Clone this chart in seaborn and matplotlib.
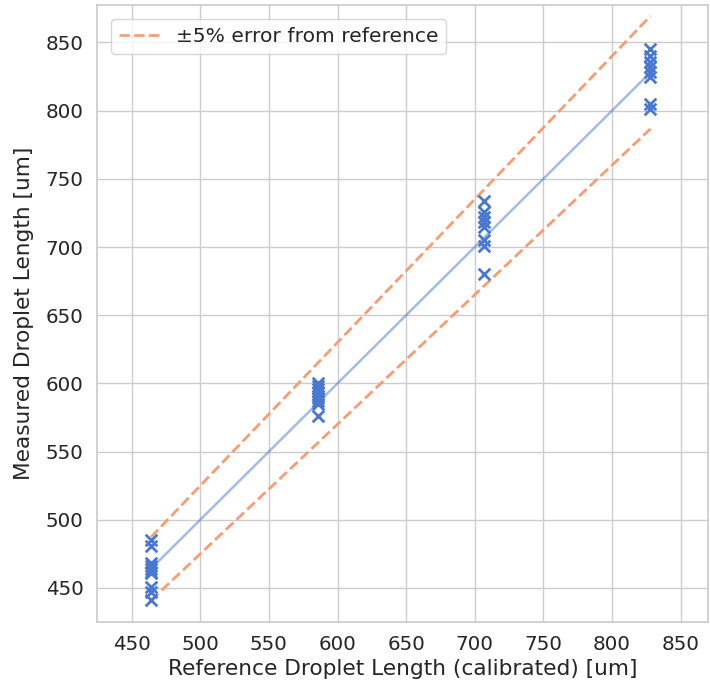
import numpy as np
import pandas as pd
import matplotlib
matplotlib.use("Agg")
import matplotlib.pyplot as plt
import seaborn as sns

# Calibrated reference lengths (um) and repeated measurements at each
ref_lengths = [464, 585.5, 707, 828]
meas_464 = [485, 481, 468, 466, 464, 462, 461, 451, 447, 441]
meas_585 = [600, 598, 596, 594, 591, 589, 587, 585, 576]
meas_707 = [734, 726, 722, 718, 715, 705, 701, 680]
meas_828 = [845, 840, 836, 832, 828, 825, 805, 801]
tolerance = 0.05

measured = [meas_464, meas_585, meas_707, meas_828]
df = pd.DataFrame({
    "ref": np.concatenate([[r] * len(m) for r, m in zip(ref_lengths, measured)]),
    "meas": np.concatenate(measured),
})
ref_line = pd.DataFrame({"ref": ref_lengths})
ref_line["ideal"] = ref_line["ref"]
ref_line["upper"] = ref_line["ref"] * (1 + tolerance)
ref_line["lower"] = ref_line["ref"] * (1 - tolerance)

sns.set_theme(style="whitegrid", palette="muted", font_scale=1.3)
blue = sns.color_palette("muted")[0]
salmon = "#f89c74"

fig = plt.figure(figsize=(7.1, 6.91), dpi=100)
ax = fig.add_axes([96.7 / 710, 1 - 621.7 / 691, (708 - 96.7) / 710, (621.7 - 5) / 691])

sns.lineplot(data=ref_line, x="ref", y="ideal", ax=ax, color=blue, alpha=0.5,
             linewidth=1.8)
sns.lineplot(data=ref_line, x="ref", y="upper", ax=ax, color=salmon,
             linestyle="--", linewidth=2.0, label="±5% error from reference")
sns.lineplot(data=ref_line, x="ref", y="lower", ax=ax, color=salmon,
             linestyle="--", linewidth=2.0)
sns.scatterplot(data=df, x="ref", y="meas", ax=ax, marker="x", color=blue,
                s=70, linewidth=2.0, zorder=3)

ax.set_xlim(424.5, 870)
ax.set_ylim(425.2, 877.5)
ax.set_xticks(np.arange(450, 851, 50))
ax.set_yticks(np.arange(450, 851, 50))
ax.set_xlabel("Reference Droplet Length (calibrated) [um]")
ax.set_ylabel("Measured Droplet Length [um]", labelpad=8)
ax.legend(loc="upper left", fontsize=14.6, borderaxespad=0.7)

fig.savefig("out.png", dpi=100)
